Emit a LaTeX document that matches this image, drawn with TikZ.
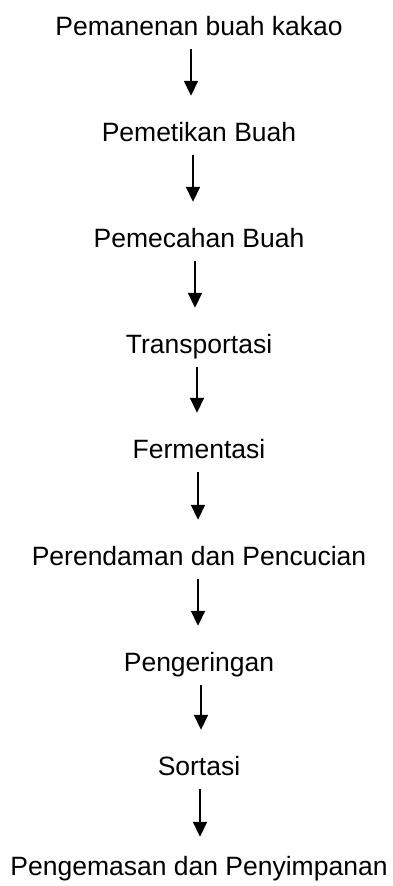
\documentclass[tikz,border=0pt]{standalone}
\usepackage{fontspec}
\setmainfont{Liberation Sans}
\usetikzlibrary{arrows.meta}
\begin{document}
\begin{tikzpicture}[x=1pt,y=1pt,
  stepnode/.style={anchor=base,inner sep=0pt,text height=19pt,text depth=6pt,font=\fontsize{26.5}{30}\selectfont},
  flowarrow/.style={line width=1.8pt,-{Triangle[width=14pt,length=15pt]},shorten <=8pt,shorten >=26pt}]
\useasboundingbox (0,0) rectangle (392,-886);
\node[stepnode] (n1) at (199,-35) {Pemanenan buah kakao};
\node[stepnode] (n2) at (199,-141) {Pemetikan Buah};
\node[stepnode] (n3) at (199,-247) {Pemecahan Buah};
\node[stepnode] (n4) at (199,-353) {Transportasi};
\node[stepnode] (n5) at (199,-458) {Fermentasi};
\node[stepnode] (n6) at (199,-565) {Perendaman dan Pencucian};
\node[stepnode] (n7) at (199,-671) {Pengeringan};
\node[stepnode] (n8) at (199,-775) {Sortasi};
\node[stepnode] (n9) at (199,-875) {Pengemasan dan Penyimpanan};
\draw[flowarrow] ([xshift=-8pt]n1.south) -- ([xshift=-8pt]n2.north);
\draw[flowarrow] ([xshift=-6pt]n2.south) -- ([xshift=-6pt]n3.north);
\draw[flowarrow] ([xshift=-4pt]n3.south) -- ([xshift=-4pt]n4.north);
\draw[flowarrow] ([xshift=-2pt]n4.south) -- ([xshift=-2pt]n5.north);
\draw[flowarrow] ([xshift=-1pt]n5.south) -- ([xshift=-1pt]n6.north);
\draw[flowarrow] ([xshift=-1pt]n6.south) -- ([xshift=-1pt]n7.north);
\draw[flowarrow] ([xshift=2pt]n7.south) -- ([xshift=2pt]n8.north);
\draw[flowarrow,shorten >=19pt] ([xshift=1pt]n8.south) -- ([xshift=1pt]n9.north);
\end{tikzpicture}
\end{document}
